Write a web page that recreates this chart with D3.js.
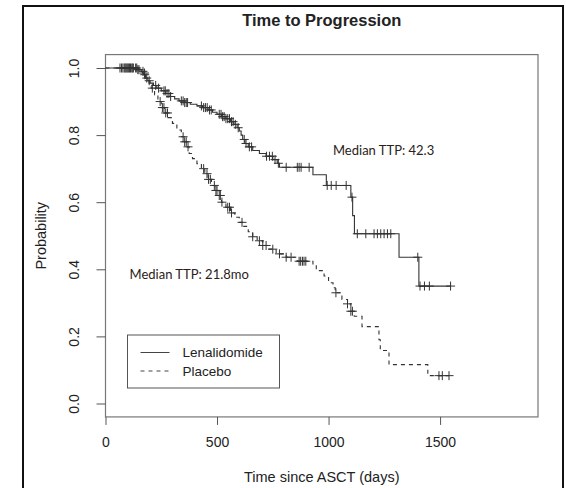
<!DOCTYPE html>
<html>
<head>
<meta charset="utf-8">
<script src="https://cdn.jsdelivr.net/npm/d3@7"></script>
<style>
  body { margin: 0; background: #fff; }
  text { font-family: 'Liberation Sans', Arial, sans-serif; fill: #222; }
  .note { font-family: 'Lato', 'Open Sans', sans-serif; font-size: 13px; fill: #2a2218; }
</style>
</head>
<body>
<div id="chart"></div>
<script>
// Kaplan-Meier steps (day, survival after the drop)
const lenTimes = [140,160,172,180,190,200,215,230,250,270,290,310,330,355,380,410,435,460,480,500,520,540,560,575,590,600,608,615,625,640,660,690,720,750,770,780,930,990,1100,1108,1116,1316,1405];
const lenSurv = [0.995,0.99,0.98,0.97,0.962,0.955,0.948,0.94,0.932,0.924,0.915,0.908,0.902,0.897,0.892,0.887,0.882,0.875,0.868,0.862,0.855,0.849,0.84,0.832,0.822,0.812,0.8,0.787,0.775,0.765,0.754,0.745,0.737,0.727,0.716,0.704,0.682,0.65,0.615,0.56,0.506,0.436,0.35];
const lenCensor = [65,72,78,84,88,92,96,100,104,108,112,118,125,135,145,150,168,176,185,196,225,238,262,268,276,284,292,340,348,355,362,368,430,440,448,456,466,474,510,518,525,532,540,548,556,565,572,582,595,622,630,645,655,722,735,748,760,775,810,860,868,877,913,994,1012,1034,1079,1105,1129,1167,1204,1219,1234,1249,1264,1279,1400,1410,1430,1452,1547];

const plaTimes = [150,165,180,195,205,220,235,250,265,280,300,320,340,355,365,375,390,410,430,445,460,475,490,505,520,540,560,580,600,620,640,660,680,705,730,765,810,860,930,945,980,1000,1020,1030,1060,1085,1100,1115,1150,1226,1232,1271,1445];
const plaSurv = [0.995,0.985,0.97,0.955,0.94,0.92,0.9,0.882,0.866,0.852,0.835,0.815,0.795,0.78,0.765,0.745,0.73,0.715,0.7,0.685,0.668,0.65,0.635,0.62,0.6,0.585,0.568,0.555,0.54,0.528,0.512,0.497,0.485,0.471,0.46,0.446,0.436,0.424,0.416,0.396,0.38,0.36,0.345,0.33,0.31,0.297,0.275,0.26,0.229,0.19,0.158,0.116,0.083];
const plaCensor = [120,140,175,210,245,255,262,270,278,348,355,362,370,440,455,462,470,488,495,500,510,515,522,548,556,565,612,660,690,705,720,750,780,810,832,868,875,883,890,898,1033,1085,1100,1107,1495,1510,1540];

const xTicks = [0, 500, 1000, 1500];
const yTicks = [0, 0.2, 0.4, 0.6, 0.8, 1.0];
const groups = ['Lenalidomide', 'Placebo'];
const notes = [
  { label: 'Median TTP: 42.3', day: 1020, p: 0.755 },
  { label: 'Median TTP: 21.8mo', day: 108, p: 0.385 }
];

const w = 566, h = 488;
const margin = { top: 68, right: 28, bottom: 85, left: 105.5 };
const width = 538 - margin.left;
const height = 403.5 - margin.top;

const svg = d3.select('#chart')
  .append('svg')
  .attr('width', w)
  .attr('height', h);

// outer frame
svg.append('rect')
  .attr('x', 23).attr('y', 6)
  .attr('width', 540).attr('height', 500)
  .attr('fill', 'none')
  .attr('stroke', '#111')
  .attr('stroke-width', 2);

const g = svg.append('g')
  .attr('transform', 'translate(' + margin.left + ',' + margin.top + ')');

const x = d3.scaleLinear().domain([0, 1939]).range([0, width]);
const y = d3.scaleLinear().domain([0, 1]).range([height, 0]);
const pad = 0.04 * height;

// plot box
g.append('rect')
  .attr('x', 0).attr('y', -pad)
  .attr('width', width).attr('height', height + 2 * pad)
  .attr('fill', 'none')
  .attr('stroke', '#777')
  .attr('stroke-width', 1.2);

const xAxis = g.append('g')
  .attr('transform', 'translate(0,' + (height + pad) + ')')
  .call(d3.axisBottom(x).tickValues(xTicks).tickSize(8).tickPadding(12).tickFormat(d3.format('d')));
xAxis.select('.domain').remove();
xAxis.selectAll('line').attr('stroke', '#555');
xAxis.selectAll('text').attr('font-size', 14).attr('fill', '#222');

const yAxis = g.append('g')
  .call(d3.axisLeft(y).tickValues(yTicks).tickSize(9).tickFormat(d3.format('.1f')));
yAxis.select('.domain').remove();
yAxis.selectAll('line').attr('stroke', '#555');
yAxis.selectAll('text')
  .attr('font-size', 14).attr('fill', '#222')
  .attr('x', null)
  .attr('text-anchor', 'middle')
  .attr('transform', 'translate(-31,0) rotate(-90)')
  .attr('dy', '0.35em');

function stepAt(times, surv, t) {
  let s = 1;
  for (let i = 0; i < times.length; i++) {
    if (times[i] <= t) s = surv[i];
  }
  return s;
}

const line = d3.line()
  .x(function(d) { return x(d[0]); })
  .y(function(d) { return y(d[1]); })
  .curve(d3.curveStepAfter);

const arms = [
  { name: 'Lenalidomide', times: lenTimes, surv: lenSurv, censor: lenCensor, dash: null },
  { name: 'Placebo', times: plaTimes, surv: plaSurv, censor: plaCensor, dash: '4,4' }
];

arms.forEach(function(a) {
  const pts = [[0, 1]];
  a.times.forEach(function(t, i) { pts.push([t, a.surv[i]]); });
  const last = d3.max(a.censor);
  pts.push([Math.max(last, a.times[a.times.length - 1]), a.surv[a.surv.length - 1]]);

  g.append('path')
    .attr('d', line(pts))
    .attr('fill', 'none')
    .attr('stroke', '#333')
    .attr('stroke-width', 1.1)
    .attr('stroke-dasharray', a.dash);

  g.selectAll('.c-' + a.name)
    .data(a.censor)
    .enter().append('path')
    .attr('class', 'c-' + a.name)
    .attr('transform', function(d) {
      return 'translate(' + x(d) + ',' + y(stepAt(a.times, a.surv, d)) + ')';
    })
    .attr('d', 'M-4.5,0H4.5M0,-4.5V4.5')
    .attr('stroke', '#333')
    .attr('stroke-width', 1);
});

// annotations
g.selectAll('.note')
  .data(notes)
  .enter().append('text')
  .attr('class', 'note')
  .attr('x', function(d) { return x(d.day); })
  .attr('y', function(d) { return y(d.p); })
  .attr('dy', '0.35em')
  .text(function(d) { return d.label; });

// legend
const lg = svg.append('g').attr('transform', 'translate(127.5,335)');
lg.append('rect')
  .attr('width', 152).attr('height', 53)
  .attr('fill', '#fff')
  .attr('stroke', '#555')
  .attr('stroke-width', 1);
groups.forEach(function(name, i) {
  const yy = 17.5 + i * 18.5;
  lg.append('line')
    .attr('x1', 13).attr('x2', 42)
    .attr('y1', yy).attr('y2', yy)
    .attr('stroke', '#444')
    .attr('stroke-width', 1)
    .attr('stroke-dasharray', i === 1 ? '4,4' : null);
  lg.append('text')
    .attr('x', 55).attr('y', yy)
    .attr('dy', '0.35em')
    .attr('font-size', 13.5)
    .text(name);
});

// titles
svg.append('text')
  .attr('x', margin.left + width / 2).attr('y', 26)
  .attr('text-anchor', 'middle')
  .attr('font-size', 16.5)
  .attr('font-weight', 'bold')
  .text('Time to Progression');

svg.append('text')
  .attr('x', margin.left + width / 2).attr('y', 482)
  .attr('text-anchor', 'middle')
  .attr('font-size', 14.5)
  .text('Time since ASCT (days)');

svg.append('text')
  .attr('transform', 'translate(41,' + (margin.top + height / 2) + ') rotate(-90)')
  .attr('text-anchor', 'middle')
  .attr('dy', '0.35em')
  .attr('font-size', 14.5)
  .text('Probability');
</script>
</body>
</html>
